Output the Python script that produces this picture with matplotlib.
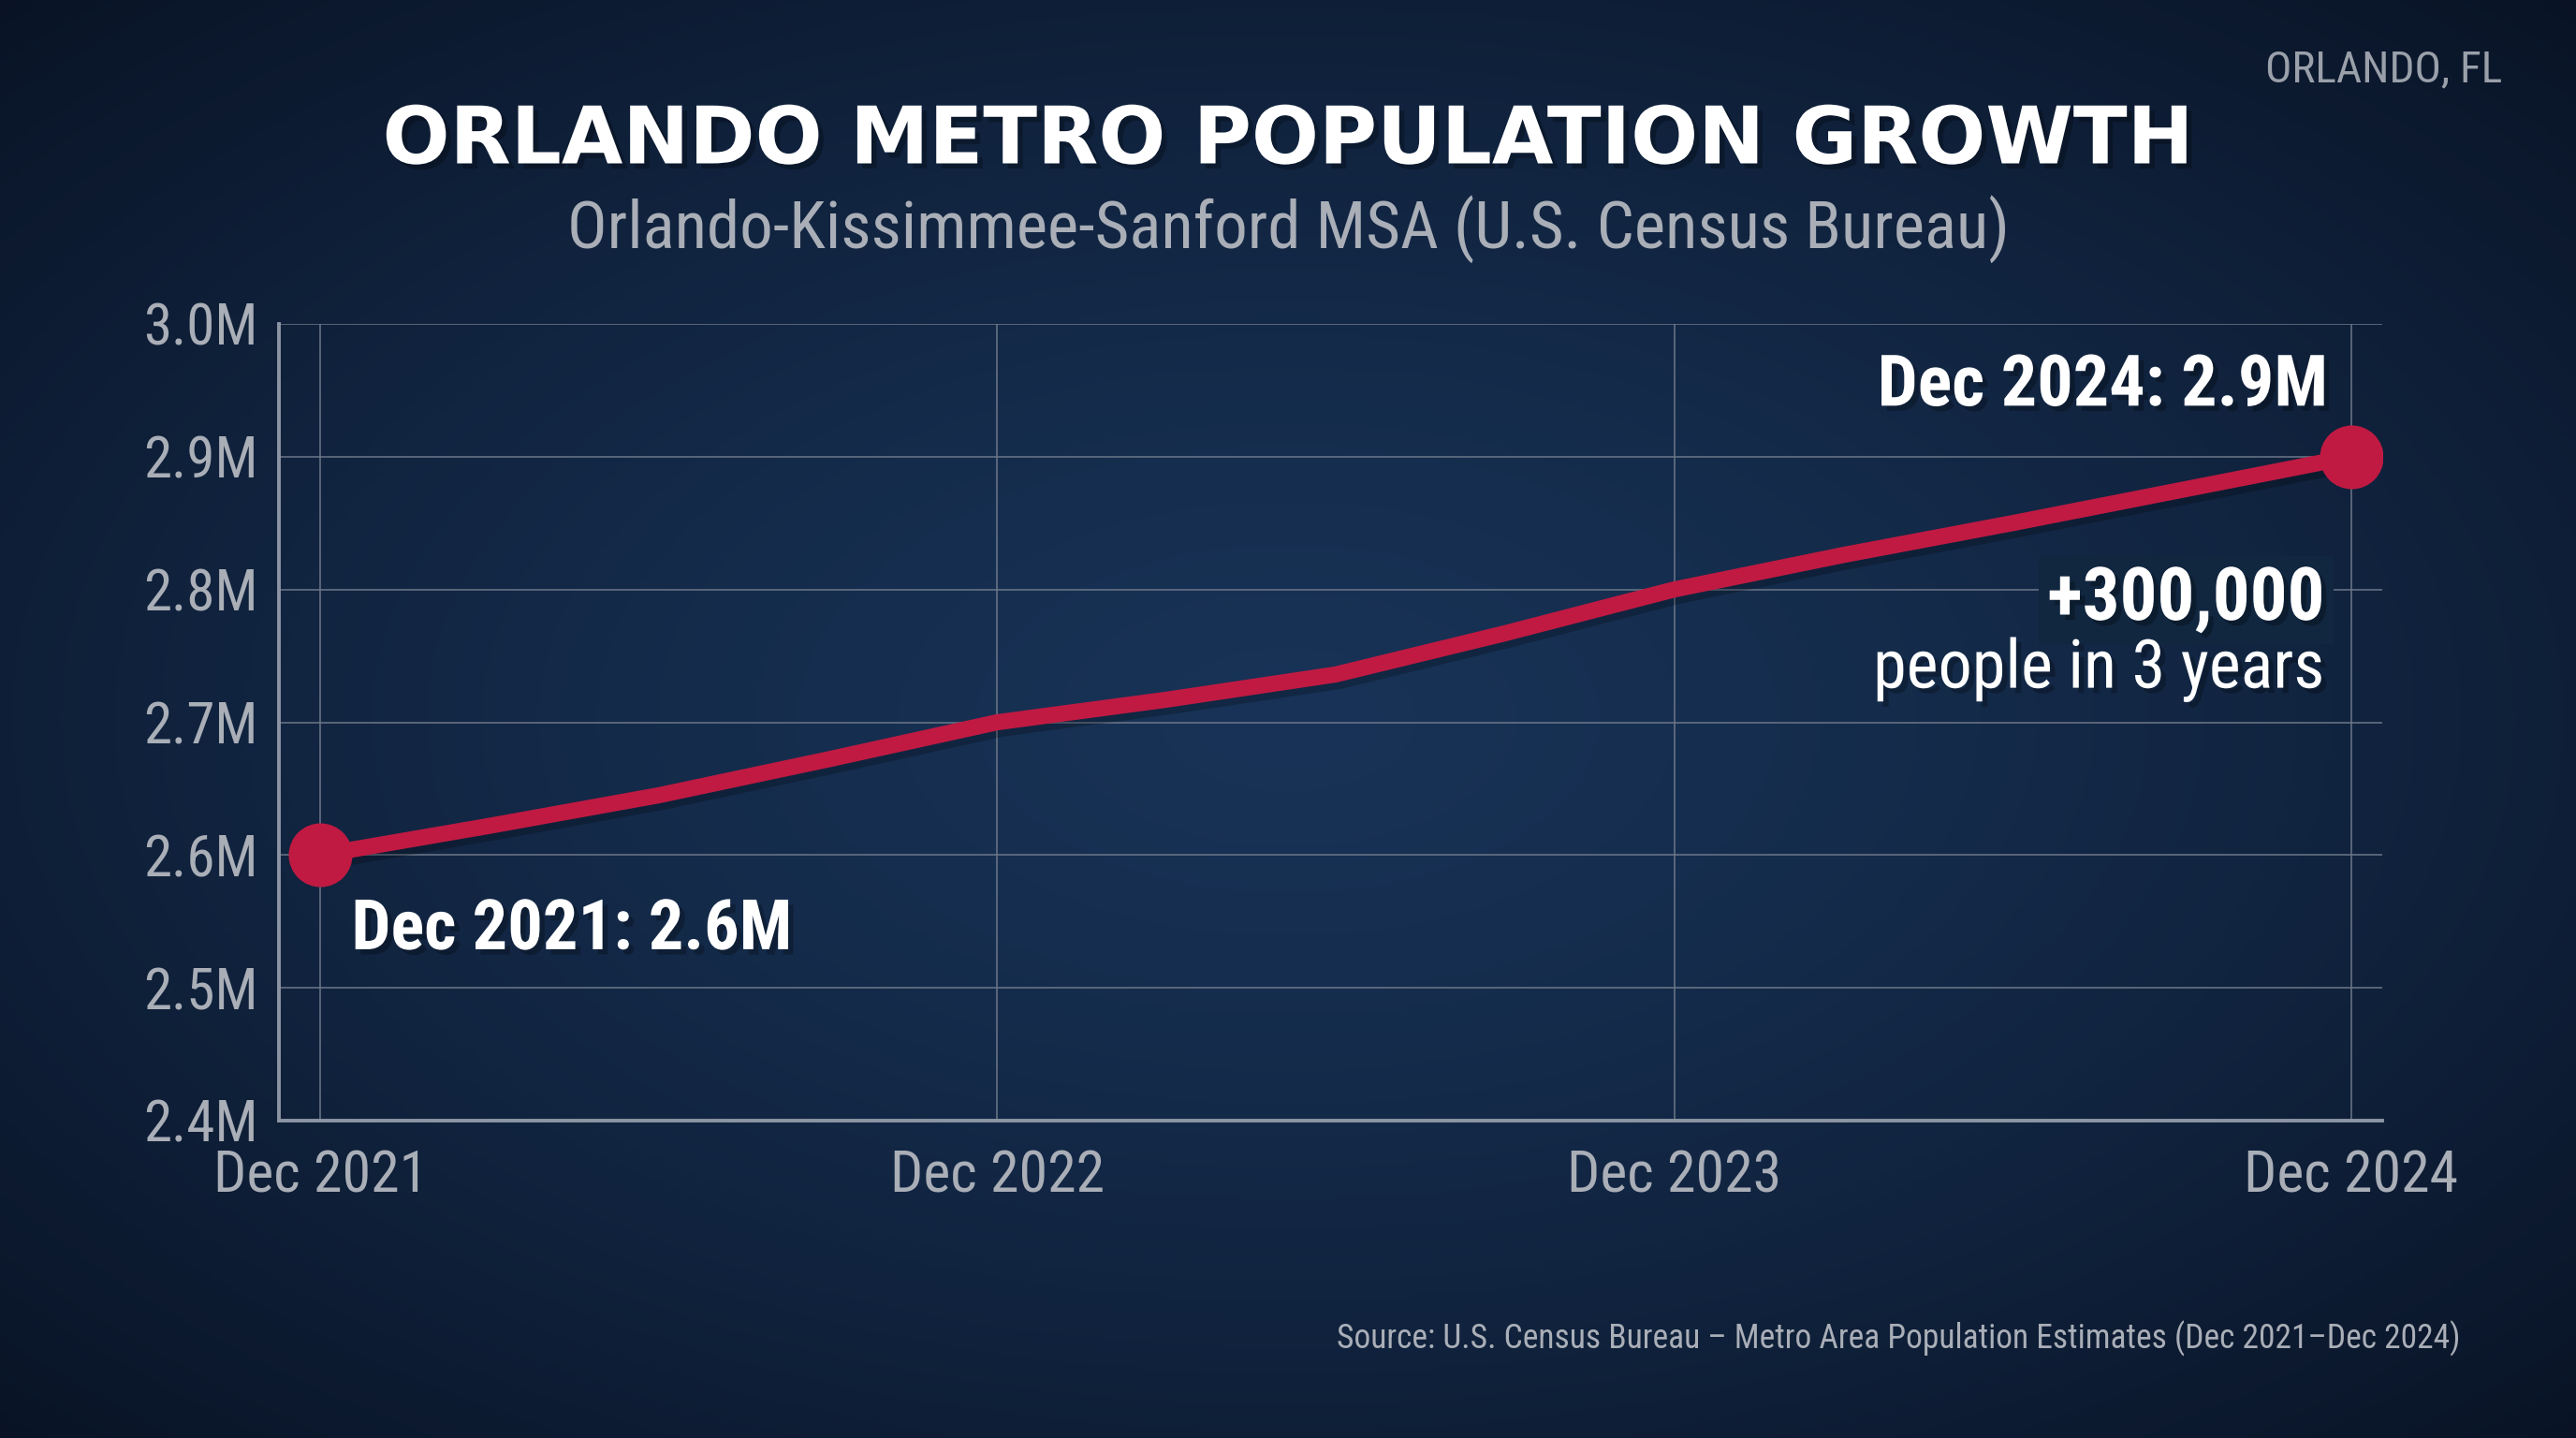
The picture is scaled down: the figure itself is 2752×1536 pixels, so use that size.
import numpy as np
import matplotlib
matplotlib.use("Agg")
import matplotlib.pyplot as plt
import matplotlib.patheffects as pe

# quarterly population (millions), Dec 2021 -> Dec 2024
years_since = [0, 0.25, 0.5, 0.75, 1.0, 1.25, 1.5, 1.75, 2.0, 2.25, 2.5, 2.75, 3.0]
population = [2.600, 2.622, 2.645, 2.672, 2.700, 2.717, 2.736, 2.767,
              2.800, 2.826, 2.850, 2.875, 2.900]
tick_pos = [0, 1, 2, 3]
tick_labels = ["Dec 2021", "Dec 2022", "Dec 2023", "Dec 2024"]
y_ticks = [2.4, 2.5, 2.6, 2.7, 2.8, 2.9, 3.0]
y_labels = ["2.4M", "2.5M", "2.6M", "2.7M", "2.8M", "2.9M", "3.0M"]

W, H, DPI = 2752, 1536, 200
COND = ["Roboto Condensed", "Roboto", "DejaVu Sans"]
RED = "#c01a42"
GREY = "#a9aeb7"

fig = plt.figure(figsize=(W / DPI, H / DPI), dpi=DPI)

# radial navy background
bg = fig.add_axes([0, 0, 1, 1], zorder=-10)
yy, xx = np.mgrid[0:1:400j, 0:1:700j]
r = np.sqrt(((xx - 0.5) / 0.75) ** 2 + ((yy - 0.5) / 0.75) ** 2)
r = np.clip(r / 0.95, 0, 1)
inner = np.array([0x18, 0x33, 0x57]) / 255
outer = np.array([0x09, 0x13, 0x25]) / 255
img = inner[None, None, :] * (1 - r[..., None] ** 1.3) + outer[None, None, :] * r[..., None] ** 1.3
bg.imshow(img, aspect="auto", extent=[0, 1, 0, 1])
bg.axis("off")

ax = fig.add_axes([298 / W, 1 - 1197 / H, (2545 - 298) / W, (1197 - 346) / H])
ax.set_facecolor("none")
ax.set_xlim(-0.061, 3.046)
ax.set_ylim(2.4, 3.0)

ax.grid(True, color="#6b7688", linewidth=0.7, alpha=0.8)
ax.set_axisbelow(True)
for s in ["top", "right"]:
    ax.spines[s].set_visible(False)
for s in ["left", "bottom"]:
    ax.spines[s].set_color("#8c95a3")
    ax.spines[s].set_linewidth(1.4)

ax.set_xticks(tick_pos)
ax.set_xticklabels(tick_labels)
ax.set_yticks(y_ticks)
ax.set_yticklabels(y_labels)
ax.tick_params(length=0, colors=GREY, labelsize=22, pad=8)
ax.tick_params(axis="x", labelsize=22.3, pad=11)
for lab in ax.get_xticklabels() + ax.get_yticklabels():
    lab.set_family(COND)

shadow = [pe.SimpleLineShadow(offset=(1.5, -2.5), shadow_color="black", alpha=0.22), pe.Normal()]
ax.plot(years_since, population, color=RED, linewidth=6.2, solid_capstyle="round",
        solid_joinstyle="round", path_effects=shadow, zorder=3)
ax.plot([years_since[0], years_since[-1]], [population[0], population[-1]], "o",
        color=RED, markersize=23.5, zorder=4)

tshadow = [pe.withSimplePatchShadow(offset=(2, -2), shadow_rgbFace="black", alpha=0.25)]

ax.annotate("Dec 2021: 2.6M", (years_since[0], population[0]), xytext=(12, -29),
            textcoords="offset points", ha="left", va="center", color="white",
            fontsize=26.8, fontweight="bold", family=COND, path_effects=tshadow)
ax.annotate("Dec 2024: 2.9M", (years_since[-1], population[-1]), xytext=(-9, 27),
            textcoords="offset points", ha="right", va="center", color="white",
            fontsize=27.4, fontweight="bold", family=COND, path_effects=tshadow)
ax.annotate("+300,000", (years_since[-1], population[-1]), xytext=(-10, -55),
            textcoords="offset points", ha="right", va="center", color="white",
            fontsize=28.4, fontweight="bold", family=COND, path_effects=tshadow,
            bbox=dict(boxstyle="square,pad=0.12", fc="#11263f", ec="none"))
ax.annotate("people in 3 years", (years_since[-1], population[-1]), xytext=(-10, -82),
            textcoords="offset points", ha="right", va="center", color="white",
            fontsize=26, family=COND, path_effects=tshadow)

fig.text(0.5, 1 - 151 / H, "ORLANDO METRO POPULATION GROWTH", ha="center", va="center",
         color="white", fontsize=30.5, fontweight="bold", family="DejaVu Sans",
         path_effects=tshadow)
fig.text(0.5, 1 - 245 / H, "Orlando-Kissimmee-Sanford MSA (U.S. Census Bureau)",
         ha="center", va="center", color=GREY, fontsize=25.5, family=COND)
fig.text(2673 / W, 1 - 74 / H, "ORLANDO, FL", ha="right", va="center", color="#9aa0aa",
         fontsize=17, family=COND)
fig.text(2629 / W, 1 - 1430 / H,
         "Source: U.S. Census Bureau \u2013 Metro Area Population Estimates (Dec 2021\u2013Dec 2024)",
         ha="right", va="center", color=GREY, fontsize=12.8, family=COND)

fig.savefig("out.png", dpi=DPI)
